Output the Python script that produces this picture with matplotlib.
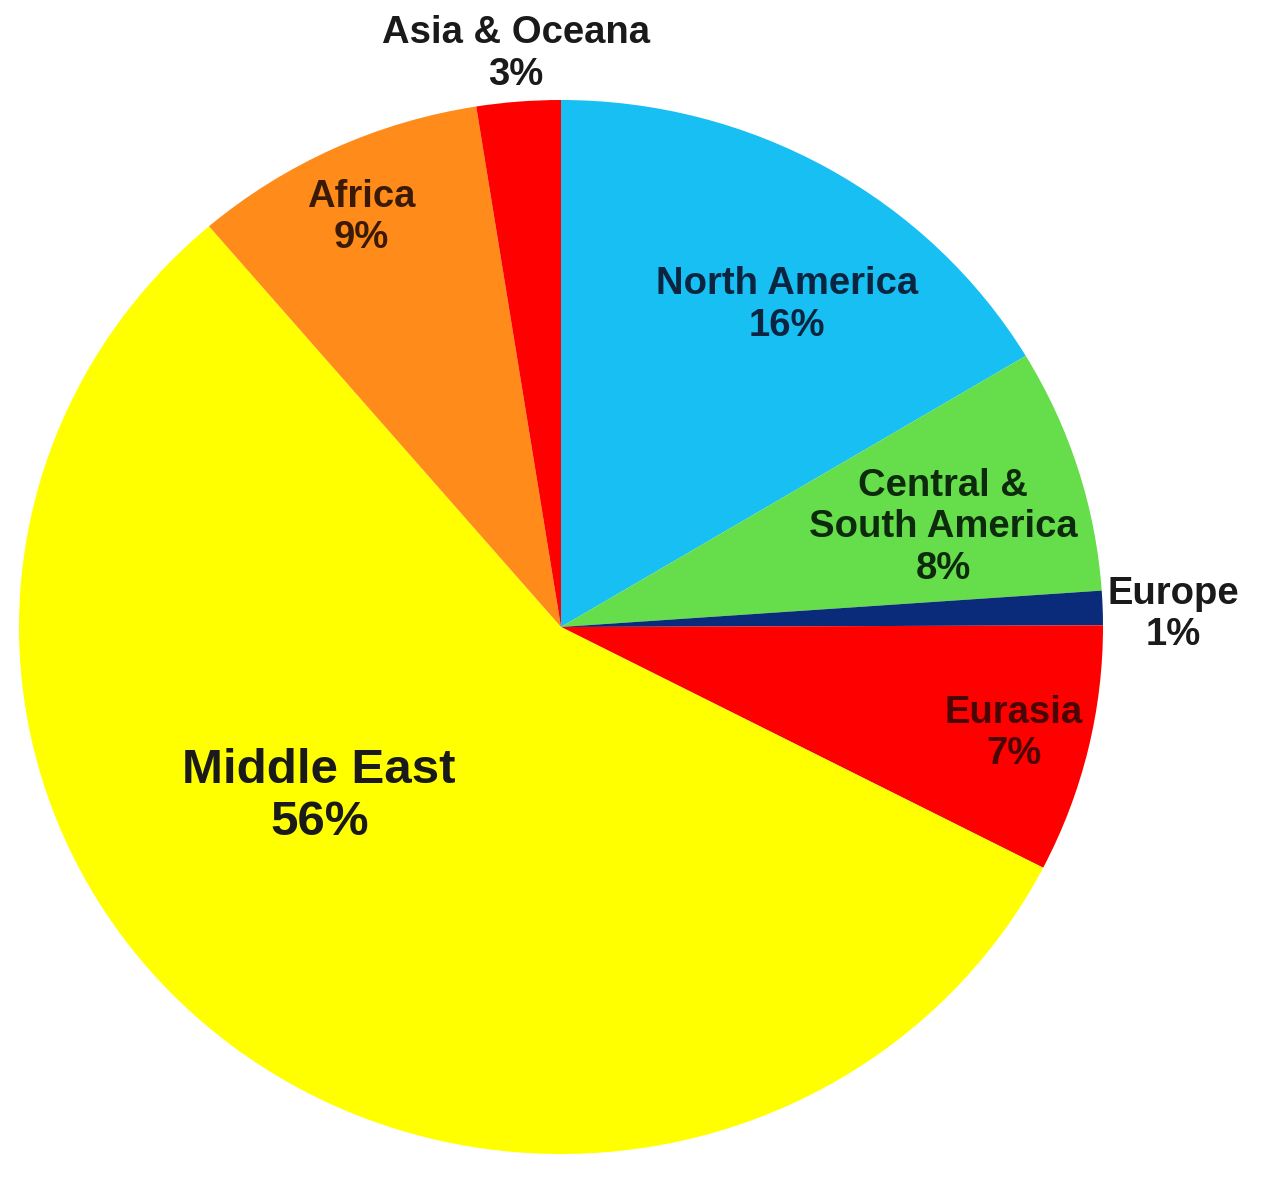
import numpy as np
import matplotlib.pyplot as plt

regions = ["North America", "Central &\nSouth America", "Europe", "Eurasia",
           "Middle East", "Africa", "Asia & Oceana"]
# wedge sizes; the printed labels are rounded
shares = [16.4, 7.5, 1.05, 7.6, 56.2, 8.75, 2.5]
shown_pct = [16, 8, 1, 7, 56, 9, 3]
colors = ["#17BFF2", "#66DD4A", "#0A2A7A", "#FF0000", "#FFFF00", "#FF8C1A", "#FF0000"]
text_colors = ["#0b2540", "#0d2a0d", "#1a1a1a", "#4a0505", "#1a1a1a", "#3a1a05", "#1a1a1a"]

# label placement (radius in pie units, angle in degrees)
label_r = [0.74, 0.73, 1.13, 0.86, 0.55, 0.86, 1.09]
label_ang = [55.7, 15.0, 1.2, -13.6, 215.8, 115.4, 94.4]
label_size = [27.5, 27.5, 27.5, 27.5, 35.5, 27.5, 27.5]

plt.rcParams["font.family"] = ["Liberation Sans", "DejaVu Sans"]

fig = plt.figure(figsize=(12.8, 11.8), dpi=100)
ax = fig.add_axes([0, 0, 1, 1])

ax.pie(shares, colors=colors, startangle=90, counterclock=False,
       wedgeprops=dict(linewidth=0))

ax.set_aspect("auto")
ax.set_xlim(-561 / 542, (1280 - 561) / 542)
ax.set_ylim(-553 / 527, (1180 - 553) / 527)
ax.axis("off")

for name, pct, r, a, fs, tc in zip(regions, shown_pct, label_r, label_ang,
                                   label_size, text_colors):
    x = r * np.cos(np.radians(a))
    y = r * np.sin(np.radians(a))
    ax.text(x, y, f"{name}\n{pct}%", ha="center", va="center",
            fontsize=fs, fontweight="bold", color=tc, linespacing=1.2)

fig.savefig("out.png", dpi=100, facecolor="white")
